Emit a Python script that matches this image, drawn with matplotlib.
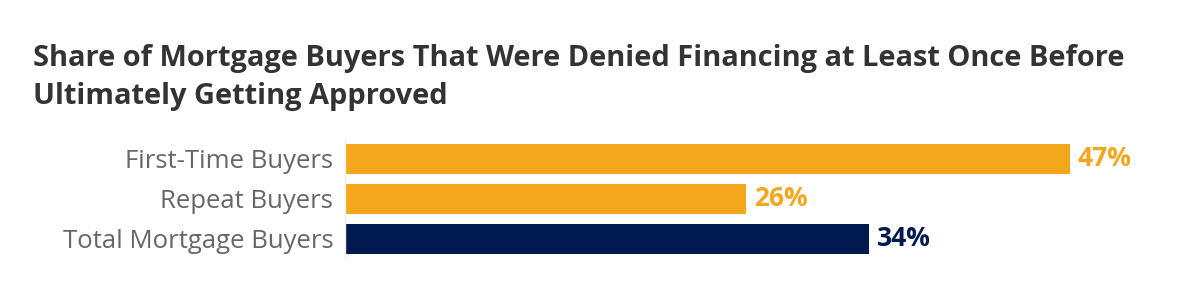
import matplotlib.pyplot as plt

categories = ["First-Time Buyers", "Repeat Buyers", "Total Mortgage Buyers"]
values = [47, 26, 34]
bar_colors = ["#F2A71D", "#F2A71D", "#001A4F"]
title = ("Share of Mortgage Buyers That Were Denied Financing at Least Once Before\n"
         "Ultimately Getting Approved")

plt.rcParams['font.family'] = ['Open Sans', 'DejaVu Sans']

fig = plt.figure(figsize=(12, 3), dpi=100)
# axes placed in pixel terms: left edge of bars at x=345, rows 139..259 from top
ax = fig.add_axes([345 / 1200, 41 / 300, 771 / 1200, 120 / 300])

y = range(len(categories))
ax.barh(y, values, height=0.75, color=bar_colors)
ax.set_xlim(0, 50)
ax.set_ylim(2.5, -0.5)

for i, v in enumerate(values):
    ax.text(v + 0.5, i, f"{v}%", va="center", ha="left", fontsize=19,
            fontweight="bold", color=bar_colors[i], clip_on=False)

ax.set_yticks(list(y))
ax.set_yticklabels(categories, fontsize=18.5, color="#666666")
ax.tick_params(axis="y", length=0, pad=8.5)
ax.set_xticks([])
for side in ["top", "right", "bottom"]:
    ax.spines[side].set_visible(False)
ax.spines["left"].set_color("#EEEEEE")
ax.spines["left"].set_linewidth(1)

fig.text(33 / 1200, 1 - 44 / 300, title, fontsize=20.9, fontweight="bold",
         color="#333333", va="top", ha="left", linespacing=1.42)

fig.savefig("out.png", dpi=100, facecolor="white")
